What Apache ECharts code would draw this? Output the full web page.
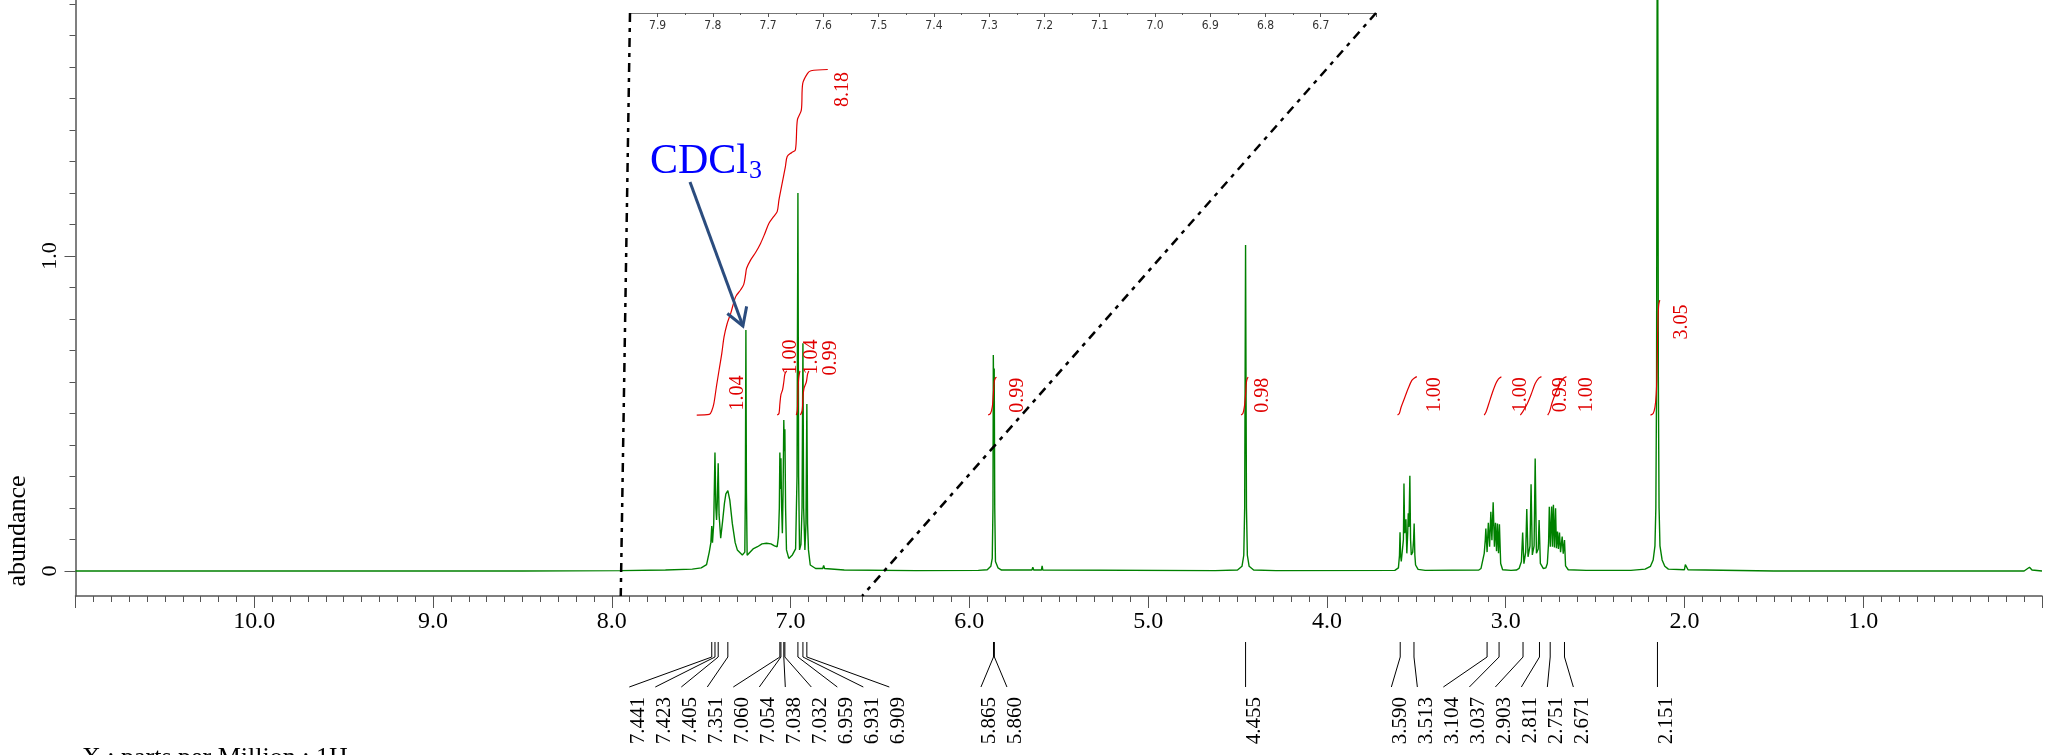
<!DOCTYPE html>
<html>
<head>
<meta charset="utf-8">
<title>1H NMR</title>
<script src="https://cdn.jsdelivr.net/npm/echarts@6/dist/echarts.min.js"></script>
<style>
  html, body { margin: 0; padding: 0; background: #fff; }
  #main { width: 2045px; height: 755px; }
</style>
</head>
<body>
<div id="main"></div>
<script>
// 谱图 [ppm, abundance]
const spectrum = [
  [11.0, 0.0], [9.5, 0.0], [8.5, 0.0], [7.95, 0.001], [7.7, 0.003], [7.55, 0.006], [7.5, 0.01], [7.47, 0.02],
  [7.455, 0.06], [7.446, 0.09], [7.441, 0.143], [7.437, 0.09], [7.43, 0.15], [7.423, 0.376], [7.418, 0.2],
  [7.414, 0.162], [7.41, 0.22], [7.405, 0.342], [7.4, 0.178], [7.391, 0.104], [7.38, 0.16], [7.37, 0.215],
  [7.362, 0.245], [7.351, 0.255], [7.34, 0.225], [7.326, 0.151], [7.31, 0.09], [7.298, 0.067], [7.27, 0.051],
  [7.256, 0.06], [7.253, 0.25], [7.25, 0.765], [7.247, 0.25], [7.243, 0.05], [7.235, 0.056], [7.21, 0.07],
  [7.185, 0.077], [7.16, 0.086], [7.135, 0.088], [7.11, 0.086], [7.09, 0.08], [7.075, 0.077], [7.068, 0.109],
  [7.063, 0.2], [7.06, 0.376], [7.057, 0.26], [7.054, 0.358], [7.05, 0.2], [7.046, 0.12], [7.042, 0.25],
  [7.038, 0.479], [7.035, 0.38], [7.032, 0.45], [7.028, 0.2], [7.023, 0.067], [7.01, 0.04], [6.99, 0.051],
  [6.972, 0.07], [6.964, 0.3], [6.959, 1.2], [6.955, 0.3], [6.95, 0.067], [6.942, 0.085], [6.936, 0.2],
  [6.931, 0.723], [6.927, 0.2], [6.92, 0.067], [6.914, 0.15], [6.909, 0.53], [6.905, 0.15], [6.9, 0.067],
  [6.89, 0.019], [6.86, 0.008], [6.82, 0.008], [6.815, 0.018], [6.81, 0.008], [6.7, 0.003], [6.3, 0.001],
  [5.95, 0.002], [5.9, 0.004], [5.88, 0.015], [5.872, 0.04], [5.868, 0.2], [5.866, 0.686], [5.863, 0.5],
  [5.861, 0.643], [5.858, 0.2], [5.854, 0.03], [5.84, 0.01], [5.82, 0.003], [5.65, 0.003], [5.645, 0.012],
  [5.64, 0.003], [5.597, 0.003], [5.593, 0.016], [5.589, 0.003], [4.625, 0.001], [4.62, 0.006], [4.615, 0.001],
  [4.5, 0.003], [4.475, 0.015], [4.465, 0.05], [4.46, 0.2], [4.455, 1.035], [4.45, 0.2], [4.445, 0.05],
  [4.435, 0.015], [4.41, 0.003], [4.285, 0.001], [4.28, 0.006], [4.275, 0.001], [3.62, 0.002], [3.6, 0.01],
  [3.594, 0.05], [3.591, 0.123], [3.588, 0.05], [3.584, 0.03], [3.572, 0.1], [3.569, 0.278], [3.565, 0.12],
  [3.562, 0.13], [3.558, 0.164], [3.553, 0.056], [3.548, 0.12], [3.545, 0.183], [3.541, 0.14], [3.536, 0.302],
  [3.532, 0.1], [3.528, 0.051], [3.52, 0.06], [3.515, 0.1], [3.512, 0.151], [3.508, 0.05], [3.504, 0.019],
  [3.49, 0.005], [3.45, 0.002], [3.15, 0.003], [3.138, 0.008], [3.12, 0.056], [3.114, 0.1], [3.111, 0.135],
  [3.104, 0.06], [3.097, 0.153], [3.09, 0.077], [3.083, 0.188], [3.077, 0.098], [3.07, 0.218], [3.063, 0.077],
  [3.057, 0.153], [3.051, 0.063], [3.046, 0.151], [3.04, 0.056], [3.035, 0.148], [3.028, 0.024], [3.017, 0.004],
  [2.97, 0.002], [2.94, 0.003], [2.925, 0.008], [2.912, 0.03], [2.905, 0.122], [2.898, 0.023], [2.888, 0.06],
  [2.882, 0.197], [2.875, 0.045], [2.864, 0.08], [2.858, 0.275], [2.851, 0.051], [2.841, 0.08], [2.835, 0.357],
  [2.828, 0.056], [2.818, 0.07], [2.813, 0.162], [2.806, 0.024], [2.79, 0.008], [2.775, 0.01], [2.767, 0.024],
  [2.76, 0.09], [2.756, 0.204], [2.75, 0.077], [2.743, 0.205], [2.738, 0.077], [2.733, 0.21], [2.727, 0.075],
  [2.721, 0.199], [2.716, 0.072], [2.71, 0.125], [2.705, 0.07], [2.699, 0.122], [2.693, 0.06], [2.684, 0.109],
  [2.678, 0.055], [2.671, 0.098], [2.665, 0.016], [2.65, 0.004], [2.55, 0.002], [2.3, 0.002], [2.22, 0.006],
  [2.19, 0.015], [2.175, 0.035], [2.165, 0.08], [2.16, 0.2], [2.156, 0.6], [2.151, 2.6], [2.146, 0.6],
  [2.142, 0.2], [2.137, 0.08], [2.125, 0.035], [2.11, 0.015], [2.09, 0.006], [2.0, 0.004], [1.995, 0.02],
  [1.988, 0.022], [1.98, 0.004], [1.5, 0.0], [0.1, 0.0], [0.07, 0.012], [0.063, 0.015], [0.056, 0.003], [0.0, 0.0]
];

// 积分曲线
const int744 = [[7.525, 0.495], [7.455, 0.497], [7.44, 0.51], [7.429, 0.532], [7.415, 0.585], [7.4, 0.638]];
const int718 = [[7.4, 0.638], [7.385, 0.69], [7.372, 0.744], [7.355, 0.785], [7.335, 0.818], [7.307, 0.871],
  [7.28, 0.892], [7.262, 0.91], [7.252, 0.94], [7.246, 0.961], [7.224, 0.987], [7.195, 1.012], [7.168, 1.04],
  [7.145, 1.07], [7.121, 1.104], [7.095, 1.125], [7.075, 1.141], [7.065, 1.178], [7.047, 1.231], [7.029, 1.284],
  [7.019, 1.316], [6.995, 1.328], [6.973, 1.337], [6.962, 1.432], [6.94, 1.463], [6.932, 1.548], [6.905, 1.58],
  [6.886, 1.588], [6.792, 1.592]];
const int705 = [[7.075, 0.495], [7.065, 0.5], [7.06, 0.53], [7.054, 0.56], [7.045, 0.575], [7.038, 0.6], [7.032, 0.625], [7.022, 0.635]];
const int696 = [[6.968, 0.495], [6.962, 0.51], [6.959, 0.56], [6.955, 0.61], [6.948, 0.635]];
const int692 = [[6.945, 0.495], [6.935, 0.51], [6.931, 0.55], [6.925, 0.58], [6.912, 0.6], [6.905, 0.625], [6.898, 0.635]];
const int586 = [[5.895, 0.495], [5.882, 0.5], [5.872, 0.52], [5.866, 0.56], [5.861, 0.6], [5.855, 0.612], [5.848, 0.615]];
const int446 = [[4.48, 0.495], [4.47, 0.5], [4.462, 0.52], [4.455, 0.56], [4.45, 0.6], [4.445, 0.612], [4.44, 0.615]];
const int355 = [[3.605, 0.495], [3.595, 0.5], [3.585, 0.52], [3.565, 0.55], [3.545, 0.58], [3.525, 0.605], [3.51, 0.613], [3.497, 0.617]];
const int307 = [[3.12, 0.495], [3.11, 0.505], [3.095, 0.53], [3.075, 0.565], [3.055, 0.595], [3.04, 0.61], [3.024, 0.617]];
const int286 = [[2.918, 0.495], [2.905, 0.505], [2.88, 0.53], [2.858, 0.56], [2.835, 0.595], [2.815, 0.612], [2.8, 0.617]];
const int271 = [[2.765, 0.495], [2.755, 0.505], [2.74, 0.535], [2.72, 0.565], [2.7, 0.59], [2.68, 0.61], [2.66, 0.617]];
const int215 = [[2.19, 0.495], [2.175, 0.5], [2.165, 0.52], [2.158, 0.56], [2.154, 0.62], [2.151, 0.72], [2.148, 0.8], [2.144, 0.845], [2.138, 0.86]];

const integralCurves = [int744, int718, int705, int696, int692, int586, int446, int355, int307, int286, int271, int215];
const integralLabels = ['1.04', '8.18', '1.00', '1.04', '0.99', '0.99', '0.98', '1.00', '1.00', '0.99', '1.00', '3.05'];
// 标签相对曲线末端的偏移(px)
const integralLabelOffsets = [[19, 23], [15, 20], [4, -14], [12, -14], [22, -13], [21, 18], [15, 18], [18, 18], [19, 18], [19, 18], [20, 18], [22, 22]];

// 峰位标注
const peakGroups = [
  [7.441, 7.423, 7.405, 7.351, 7.060, 7.054, 7.038, 7.032, 6.959, 6.931, 6.909],
  [5.865, 5.860],
  [4.455],
  [3.590, 3.513, 3.104, 3.037, 2.903, 2.811, 2.751, 2.671],
  [2.151]
];

const solventPeak = [7.25, 0.765];
const zoomRange = [6.6, 7.95];

const yLabels = [0, 1.0];
const yMinorTicks = [];
for (let i = 1; i <= 18; i++) if (i !== 10) yMinorTicks.push(i / 10);

const Y_MIN = -0.0794, Y_MAX = 1.8127;
const SERIF = '"Liberation Serif", "Times New Roman", serif';
const AXIS_GRAY = '#555';
const RED = '#e00000';

const chart = echarts.init(document.getElementById('main'));

const series = [{
  type: 'line',
  xAxisIndex: 0,
  yAxisIndex: 0,
  data: spectrum,
  symbol: 'none',
  clip: true,
  lineStyle: { color: '#008000', width: 1.4 },
  z: 3
}];
integralCurves.forEach(c => {
  series.push({
    type: 'line', xAxisIndex: 0, yAxisIndex: 0, data: c, symbol: 'none',
    smooth: 0.3, lineStyle: { color: RED, width: 1.2 }, z: 4
  });
});

chart.setOption({
  animation: false,
  backgroundColor: '#fff',
  grid: [
    { left: 75.5, right: -5.2, top: 0, bottom: 159 },
    { left: 630, width: 746, top: 0, height: 13 }
  ],
  xAxis: [
    {
      type: 'value', gridIndex: 0, inverse: true, min: 0, max: 11, interval: 1,
      axisLine: { onZero: false, lineStyle: { color: AXIS_GRAY, width: 1.5 } },
      axisTick: { length: 12, lineStyle: { color: AXIS_GRAY } },
      minorTick: { show: true, splitNumber: 10, length: 6, lineStyle: { color: AXIS_GRAY } },
      splitLine: { show: false },
      axisLabel: {
        margin: 14, color: '#000', fontFamily: SERIF, fontSize: 24,
        formatter: v => (v > 10.5 || v < 0.5) ? '' : v.toFixed(1)
      }
    },
    {
      type: 'value', gridIndex: 1, inverse: true, min: zoomRange[0], max: zoomRange[1], interval: 0.1,
      axisLine: { onZero: false, lineStyle: { color: '#777', width: 1 } },
      axisTick: { length: 4, lineStyle: { color: '#555' } },
      minorTick: { show: true, splitNumber: 2, length: 2, lineStyle: { color: '#555' } },
      splitLine: { show: false },
      axisLabel: {
        margin: 7, color: '#333', fontFamily: '"Liberation Sans Narrow", "DejaVu Sans Condensed", sans-serif', fontSize: 12,
        showMinLabel: false, showMaxLabel: false,
        formatter: v => v.toFixed(1)
      }
    }
  ],
  yAxis: [
    {
      type: 'value', gridIndex: 0, position: 'left', min: Y_MIN, max: Y_MAX,
      axisLine: { show: true, onZero: false, lineStyle: { color: AXIS_GRAY, width: 1.5 } },
      axisTick: { show: true, length: 6, customValues: yMinorTicks, lineStyle: { color: AXIS_GRAY } },
      splitLine: { show: false },
      axisLabel: {
        customValues: yLabels, rotate: 90, margin: 14, color: '#000', fontFamily: SERIF, fontSize: 22,
        formatter: v => v === 0 ? '0' : v.toFixed(1)
      }
    },
    {
      type: 'value', gridIndex: 0, position: 'left', offset: 0, min: Y_MIN, max: Y_MAX,
      axisLine: { show: false, onZero: false },
      axisTick: { show: true, length: 11, customValues: yLabels, lineStyle: { color: AXIS_GRAY } },
      axisLabel: { show: false },
      splitLine: { show: false }
    },
    { type: 'value', gridIndex: 1, min: 0, max: 1, show: false }
  ],
  series: series
});

// 标注层
const px = (ppm, v) => chart.convertToPixel({ seriesIndex: 0 }, [ppm, v]);
const g = [];

// 放大区虚线
zoomRange.forEach(v => {
  const top = chart.convertToPixel({ gridIndex: 1 }, [v, 0]);
  const bot = px(v, Y_MIN);
  g.push({
    type: 'line', z: 50,
    shape: { x1: top[0], y1: top[1], x2: bot[0], y2: bot[1] },
    style: { stroke: '#000', lineWidth: 2.5, lineDash: [9, 6, 4, 6] }
  });
});

// 峰位引线与标签
const STUB_TOP = 642, STUB_BOT = 657, LEAD_END = 687, TEXT_TOP = 697, GAP = 26;
peakGroups.forEach(grp => {
  const xs = grp.map(p => px(p, 0)[0]);
  const mid = (Math.min(...xs) + Math.max(...xs)) / 2;
  grp.forEach((p, i) => {
    const ex = mid + (i - (grp.length - 1) / 2) * GAP;
    g.push({
      type: 'polyline',
      shape: { points: [[xs[i], STUB_TOP], [xs[i], STUB_BOT], [ex, LEAD_END]] },
      style: { stroke: '#000', lineWidth: 1, fill: 'none' }
    });
    g.push({
      type: 'text', x: ex + 9, y: TEXT_TOP, rotation: Math.PI / 2,
      style: { text: p.toFixed(3), font: '21px ' + SERIF, fill: '#000', align: 'right', verticalAlign: 'middle' }
    });
  });
});

// 积分值
integralCurves.forEach((c, i) => {
  const end = px(c[c.length - 1][0], c[c.length - 1][1]);
  const off = integralLabelOffsets[i];
  g.push({
    type: 'text', x: end[0] + off[0], y: end[1] + off[1], rotation: Math.PI / 2, z: 10,
    style: { text: integralLabels[i], font: '20px ' + SERIF, fill: RED, align: 'center', verticalAlign: 'middle' }
  });
});

// 溶剂峰 CDCl3
const ctx = document.createElement('canvas').getContext('2d');
ctx.font = '42px ' + SERIF;
const cdclW = ctx.measureText('CDCl').width;
const TX = 650;
g.push({ type: 'text', x: TX, y: 162, style: { text: 'CDCl', font: '42px ' + SERIF, fill: '#0000ff', align: 'left', verticalAlign: 'middle' } });
g.push({ type: 'text', x: TX + cdclW + 1, y: 171, style: { text: '3', font: '26px ' + SERIF, fill: '#0000ff', align: 'left', verticalAlign: 'middle' } });

const peakPx = px(solventPeak[0], solventPeak[1]);
const tip = [peakPx[0] - 3, peakPx[1] - 4];
const start = [690, 182];
const dx = start[0] - tip[0], dy = start[1] - tip[1];
const len = Math.hypot(dx, dy);
const ux = dx / len, uy = dy / len;
const arm = (a) => [tip[0] + 20 * (ux * Math.cos(a) - uy * Math.sin(a)), tip[1] + 20 * (ux * Math.sin(a) + uy * Math.cos(a))];
const ARROW = '#2b4c7e';
g.push({ type: 'line', z: 20, shape: { x1: start[0], y1: start[1], x2: tip[0], y2: tip[1] }, style: { stroke: ARROW, lineWidth: 3 } });
g.push({ type: 'polyline', z: 20, shape: { points: [arm(0.54), tip, arm(-0.54)] }, style: { stroke: ARROW, lineWidth: 3, fill: 'none' } });

// 坐标轴名称
g.push({ type: 'text', x: 18, y: 531, rotation: Math.PI / 2, style: { text: 'abundance', font: '26px ' + SERIF, fill: '#000', align: 'center', verticalAlign: 'middle' } });
g.push({ type: 'text', x: 82, y: 745, style: { text: 'X : parts per Million : 1H', font: '26px ' + SERIF, fill: '#000', align: 'left', verticalAlign: 'top' } });

chart.setOption({ graphic: g });
</script>
</body>
</html>
